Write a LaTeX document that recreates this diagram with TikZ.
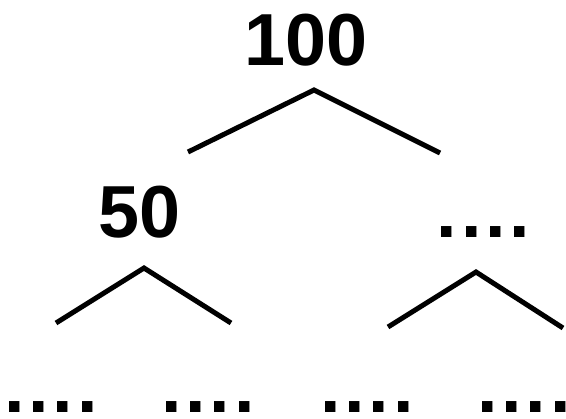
\documentclass[tikz,border=0pt]{standalone}
\usepackage{fontspec}
\setmainfont{Liberation Sans}
\usetikzlibrary{positioning}
\newcommand{\dotrow}{.\kern3.7bp.\kern3.7bp.\kern3.7bp.}

\begin{document}
\begin{tikzpicture}[
      x=1bp,y=-1bp,
      num/.style={inner sep=0pt,anchor=base,
                  font=\fontsize{74}{74}\selectfont\bfseries},
      dots/.style={num},
      branch/.style={line width=5bp,line join=miter}
    ]
    \useasboundingbox (0,0) rectangle (566,418);

    % root
    \node[num] (root) at (306,65) {100};

    % second level
    \node[num]  (left)  at (140,237) {50};
    \node[dots] (right) at (483.5,237) {\dotrow};

    % third level
    \node[dots] (ll) at (51,412)  {\dotrow};
    \node[dots] (lr) at (208,412) {\dotrow};
    \node[dots] (rl) at (367,412) {\dotrow};
    \node[dots] (rr) at (524,412) {\dotrow};

    % branch points
    \coordinate (roottip)  at (314,90);
    \coordinate (rootl)    at (188,152);
    \coordinate (rootr)    at (440,153);
    \coordinate (lefttip)  at (144,268);
    \coordinate (leftl)    at (56,323);
    \coordinate (leftr)    at (231,323);
    \coordinate (righttip) at (476,272);
    \coordinate (rightl)   at (388,327);
    \coordinate (rightr)   at (563,328);

    % branches
    \draw[branch] (rootl)  -- (roottip)  -- (rootr);
    \draw[branch] (leftl)  -- (lefttip)  -- (leftr);
    \draw[branch] (rightl) -- (righttip) -- (rightr);

  \end{tikzpicture}
\end{document}
